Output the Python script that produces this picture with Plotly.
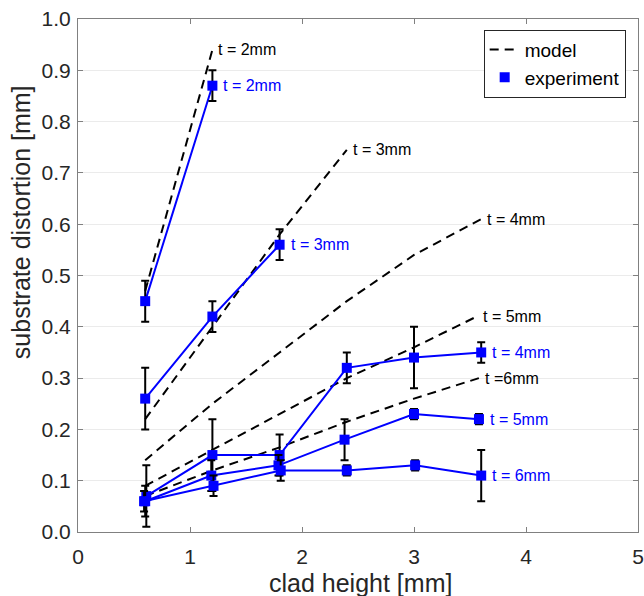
import plotly.graph_objects as go

# ---------------- data ----------------
thickness_labels = ["t = 2mm", "t = 3mm", "t = 4mm", "t = 5mm", "t = 6mm"]
model_labels = ["t = 2mm", "t = 3mm", "t = 4mm", "t = 5mm", "t =6mm"]

model_x_t2 = [0.6, 1.2]
model_y_t2 = [0.47, 0.94]
model_x_t3 = [0.6, 1.2, 1.8, 2.4]
model_y_t3 = [0.22, 0.40, 0.58, 0.745]
model_x_t4 = [0.6, 1.2, 1.8, 2.4, 3.0, 3.6]
model_y_t4 = [0.14, 0.25, 0.35, 0.45, 0.54, 0.61]
model_x_t5 = [0.6, 1.2, 1.8, 2.4, 3.0, 3.56]
model_y_t5 = [0.09, 0.16, 0.23, 0.30, 0.36, 0.42]
model_x_t6 = [0.6, 1.2, 1.8, 2.4, 3.0, 3.58]
model_y_t6 = [0.07, 0.12, 0.165, 0.215, 0.26, 0.30]

exp_x_t2 = [0.6, 1.2]
exp_y_t2 = [0.45, 0.87]
exp_e_t2 = [0.04, 0.03]
exp_x_t3 = [0.6, 1.2, 1.8]
exp_y_t3 = [0.26, 0.42, 0.56]
exp_e_t3 = [0.06, 0.03, 0.03]
exp_x_t4 = [0.61, 1.2, 1.8, 2.4, 3.0, 3.6]
exp_y_t4 = [0.07, 0.15, 0.15, 0.32, 0.34, 0.35]
exp_e_t4 = [0.06, 0.07, 0.04, 0.03, 0.06, 0.02]
exp_x_t5 = [0.6, 1.19, 1.79, 2.38, 3.0, 3.58]
exp_y_t5 = [0.06, 0.11, 0.13, 0.18, 0.23, 0.22]
exp_e_t5 = [0.03, 0.03, 0.02, 0.04, 0.01, 0.01]
exp_x_t6 = [0.59, 1.21, 1.81, 2.4, 3.01, 3.6]
exp_y_t6 = [0.06, 0.09, 0.12, 0.12, 0.13, 0.11]
exp_e_t6 = [0.02, 0.02, 0.02, 0.01, 0.01, 0.05]

x_ticks = [0, 1, 2, 3, 4, 5]
y_ticks = [0.0, 0.1, 0.2, 0.3, 0.4, 0.5, 0.6, 0.7, 0.8, 0.9, 1.0]
x_title = "clad height [mm]"
y_title = "substrate distortion [mm]"

models = [(model_x_t2, model_y_t2), (model_x_t3, model_y_t3), (model_x_t4, model_y_t4),
          (model_x_t5, model_y_t5), (model_x_t6, model_y_t6)]
exps = [(exp_x_t2, exp_y_t2, exp_e_t2), (exp_x_t3, exp_y_t3, exp_e_t3),
        (exp_x_t4, exp_y_t4, exp_e_t4), (exp_x_t5, exp_y_t5, exp_e_t5),
        (exp_x_t6, exp_y_t6, exp_e_t6)]

FONT = "Liberation Sans, Arial, sans-serif"
BLUE = "#0000ff"
TXT = "#262626"

fig = go.Figure()

for i, (mx, my) in enumerate(models):
    fig.add_trace(go.Scatter(
        x=mx, y=my, mode="lines", name="model",
        line=dict(color="black", width=2, dash="9px,6px"),
        showlegend=(i == 0), legendgroup="model", hoverinfo="skip"))

for i, (ex, ey, ee) in enumerate(exps):
    fig.add_trace(go.Scatter(
        x=ex, y=ey, mode="lines", line=dict(color=BLUE, width=2),
        showlegend=False, hoverinfo="skip"))
    fig.add_trace(go.Scatter(
        x=ex, y=ey, mode="markers", name="experiment",
        marker=dict(symbol="square", size=10, color=BLUE),
        error_y=dict(type="data", array=ee, visible=True, color="black",
                     thickness=2, width=4),
        showlegend=(i == 0), legendgroup="exp"))

annotations = []
for lab, (mx, my) in zip(model_labels, models):
    annotations.append(dict(x=mx[-1], y=my[-1], text=lab, showarrow=False,
                            xanchor="left", yanchor="middle", xshift=4,
                            font=dict(family=FONT, size=16, color="black")))
for lab, (ex, ey, ee) in zip(thickness_labels, exps):
    annotations.append(dict(x=ex[-1], y=ey[-1], text=lab, showarrow=False,
                            xanchor="left", yanchor="middle", xshift=9,
                            font=dict(family=FONT, size=16, color=BLUE)))
# axis titles
annotations.append(dict(xref="paper", yref="paper", x=0.505, y=0, text=x_title,
                        showarrow=False, xanchor="center", yanchor="top", yshift=-35,
                        font=dict(family=FONT, size=25, color=TXT)))
annotations.append(dict(xref="paper", yref="paper", x=0, y=0.604, text=y_title,
                        showarrow=False, xanchor="center", yanchor="middle", xshift=-57,
                        textangle=-90, font=dict(family=FONT, size=25, color=TXT)))

fig.update_layout(
    width=644, height=596,
    margin=dict(l=78, r=6, t=19, b=64, autoexpand=False),
    paper_bgcolor="white", plot_bgcolor="white",
    font=dict(family=FONT, size=21, color=TXT),
    annotations=annotations,
    legend=dict(x=0.978, y=0.979, xanchor="right", yanchor="top",
                bgcolor="white", bordercolor=TXT, borderwidth=1,
                font=dict(family=FONT, size=19, color="black"),
                tracegroupgap=0, itemwidth=30),
    xaxis=dict(range=[0, 5], tickvals=x_ticks, ticktext=[str(v) for v in x_ticks],
               showgrid=False, zeroline=False, automargin=False,
               ticklabeloverflow="allow", ticklabelstandoff=6,
               showline=True, linecolor="#808080", linewidth=1, mirror="ticks",
               ticks="inside", ticklen=5, tickcolor="#808080"),
    yaxis=dict(range=[0, 1], tickvals=y_ticks, ticktext=[f"{v:.1f}" for v in y_ticks],
               showgrid=True, gridcolor="#ebebeb", gridwidth=1, zeroline=False,
               automargin=False, ticklabeloverflow="allow", ticklabelstandoff=2,
               showline=True, linecolor="#808080", linewidth=1, mirror="ticks",
               ticks="inside", ticklen=5, tickcolor="#808080"),
)

fig.write_html("out.html", config={"displayModeBar": False},
               post_script="document.body.style.margin='0';document.body.style.padding='0';")
